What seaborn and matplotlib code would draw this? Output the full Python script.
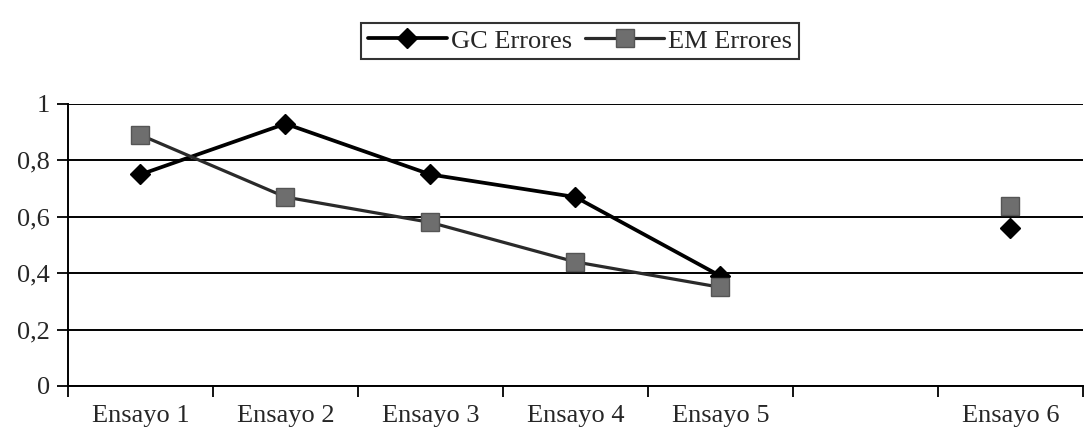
import matplotlib
matplotlib.use("Agg")
import matplotlib.pyplot as plt
import seaborn as sns
import numpy as np
import pandas as pd

# Trial labels (the sixth slot is an empty spacer category)
categories = ["Ensayo 1", "Ensayo 2", "Ensayo 3", "Ensayo 4", "Ensayo 5", "", "Ensayo 6"]
gc_errores = [0.75, 0.93, 0.75, 0.67, 0.39, None, 0.56]
em_errores = [0.89, 0.67, 0.58, 0.44, 0.35, None, 0.64]
y_labels = ["0", "0,2", "0,4", "0,6", "0,8", "1"]

sns.set_theme(style="white")
plt.rcParams["font.family"] = ["Liberation Serif", "DejaVu Serif"]

rows = []
for name, vals in (("GC Errores", gc_errores), ("EM Errores", em_errores)):
    seg = 0
    for i, v in enumerate(vals):
        if v is None:
            seg += 1
            continue
        rows.append({"pos": i, "valor": v, "serie": name, "tramo": seg})
df = pd.DataFrame(rows)

fig = plt.figure(figsize=(10.84, 4.45), dpi=100)
ax = fig.add_axes([0.0627, 0.1326, 0.9363, 0.6337])

# horizontal gridlines
for yv in np.arange(0, 1.01, 0.2):
    ax.axhline(yv, color="black", lw=1.4, zorder=1)

styles = {
    "GC Errores": dict(color="black", marker="D", ms=10, mfc="black", mec="black", lw=2.7),
    "EM Errores": dict(color="#2a2a2a", marker="s", ms=13, mfc="#6e6e6e", mec="#555555", lw=2.3),
}
handles = []
for name in ["GC Errores", "EM Errores"]:
    sub = df[df["serie"] == name]
    st = styles[name]
    for seg, part in sub.groupby("tramo"):
        sns.lineplot(data=part, x="pos", y="valor", ax=ax, color=st["color"], lw=st["lw"],
                     marker=st["marker"], markersize=st["ms"], markerfacecolor=st["mfc"],
                     markeredgecolor=st["mec"], markeredgewidth=1, zorder=3, legend=False)
    h, = ax.plot([], [], color=st["color"], lw=st["lw"], marker=st["marker"], ms=st["ms"],
                 mfc=st["mfc"], mec=st["mec"], label=name)
    handles.append(h)

ax.set_xlim(-0.5, len(categories) - 0.5)
ax.set_ylim(0, 1)
ax.set_xlabel("")
ax.set_ylabel("")

ax.set_xticks(range(len(categories)))
ax.set_xticklabels(categories, fontsize=19)
ax.set_xticks(np.arange(-0.5, len(categories), 1.0), minor=True)
ax.tick_params(axis="x", which="major", length=0, pad=14)
ax.tick_params(axis="x", which="minor", length=8, width=1.3, color="black", direction="out", bottom=True)

ax.set_yticks(np.arange(0, 1.01, 0.2))
ax.set_yticklabels(y_labels, fontsize=19)
ax.tick_params(axis="y", length=8, width=1.3, color="black", direction="out", left=True, pad=5)

for side in ["top", "right"]:
    ax.spines[side].set_visible(False)
ax.spines["left"].set_color("black")
ax.spines["left"].set_linewidth(1.4)
ax.spines["bottom"].set_color("black")
ax.spines["bottom"].set_linewidth(1.4)

leg = fig.legend(handles=handles, loc="center", bbox_to_anchor=(0.535, 0.908), ncol=2,
                 fontsize=19, frameon=True, fancybox=False, handlelength=3.0,
                 handletextpad=0.15, columnspacing=0.5, borderpad=0.25)
leg.get_frame().set_edgecolor("black")
leg.get_frame().set_linewidth(1.5)

fig.savefig("out.png", dpi=100, facecolor="white")
